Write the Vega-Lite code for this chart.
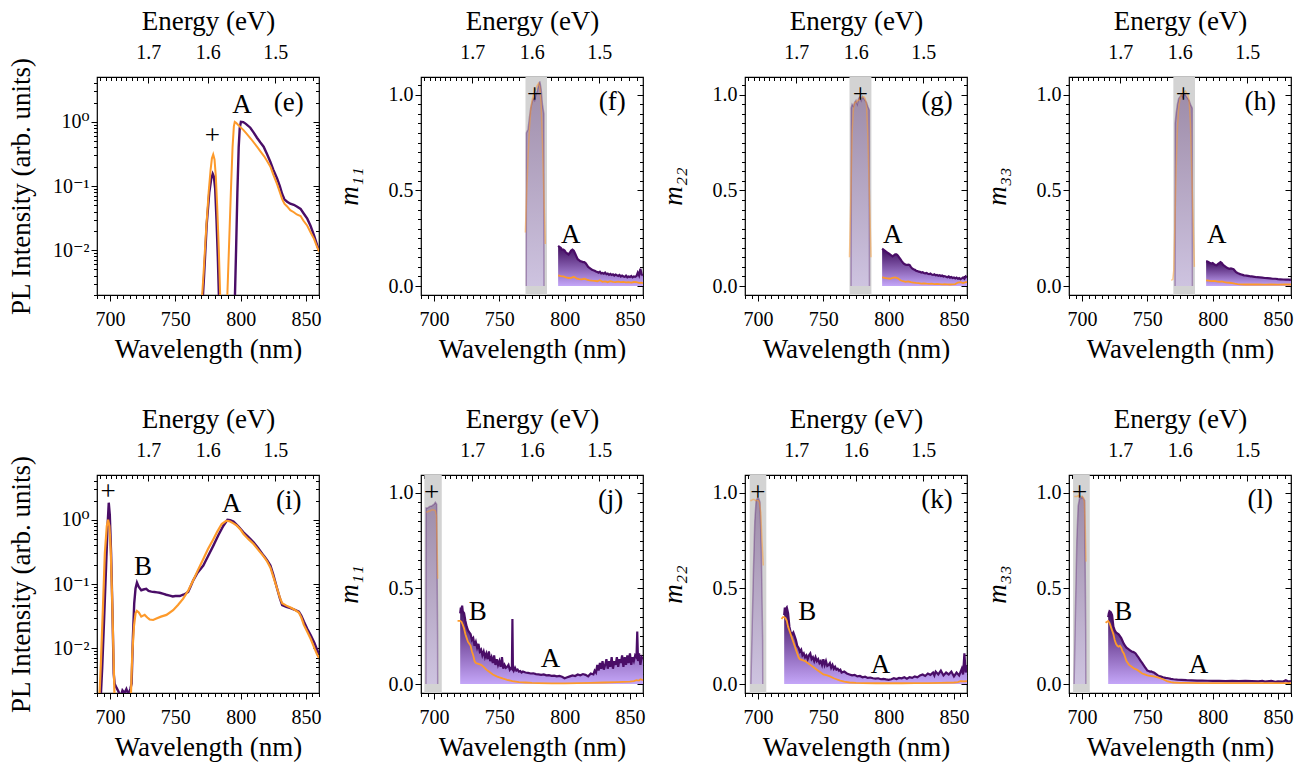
{
"$schema":"https://vega.github.io/schema/vega-lite/v6.json",
"padding":{"left":6,"top":6,"right":5,"bottom":5},
"background":"white",
"config":{
 "font":"Liberation Serif",
 "style":{"guide-label":{"font":"Liberation Serif, DejaVu Serif, serif"},"guide-title":{"font":"Liberation Serif, DejaVu Serif, serif"}},
 "view":{"stroke":"black","strokeWidth":1.2},
 "axis":{"domain":false,"grid":false,"tickColor":"black","tickWidth":1,"labelFont":"Liberation Serif, DejaVu Serif, serif","labelFontSize":20,"labelColor":"black","titleFont":"Liberation Serif, DejaVu Serif, serif","titleFontSize":27,"titleFontWeight":"normal","titleColor":"black","labelFlush":false,"labelOverlap":false,"labelBound":false},
 "text":{"font":"Liberation Serif","fontSize":27,"color":"black","align":"center","baseline":"middle"}
},
"datasets":{
 "anchor":[{"wl":700,"val":0.5}],
 "e_pu":[{"wl":770.5,"val":0.0012},{"wl":772,"val":0.004},{"wl":774,"val":0.025},{"wl":776,"val":0.08},{"wl":777.5,"val":0.13},{"wl":778.6,"val":0.155},{"wl":779.5,"val":0.14},{"wl":780.5,"val":0.09},{"wl":781.5,"val":0.03},{"wl":782.5,"val":0.008},{"wl":783.5,"val":0.0015},{"wl":790,"val":0.001},{"wl":795.5,"val":0.0015},{"wl":796.5,"val":0.01},{"wl":797.5,"val":0.08},{"wl":798.5,"val":0.4},{"wl":799.3,"val":0.8},{"wl":800.2,"val":1.0},{"wl":802,"val":0.99},{"wl":804,"val":0.93},{"wl":807.4,"val":0.81},{"wl":810,"val":0.68},{"wl":812.5,"val":0.565},{"wl":815,"val":0.48},{"wl":817.6,"val":0.41},{"wl":820,"val":0.32},{"wl":822.8,"val":0.237},{"wl":825,"val":0.18},{"wl":827.9,"val":0.131},{"wl":830,"val":0.1},{"wl":831.8,"val":0.075},{"wl":833.5,"val":0.062},{"wl":835.6,"val":0.057},{"wl":838,"val":0.053},{"wl":840.7,"val":0.051},{"wl":843,"val":0.048},{"wl":845.9,"val":0.044},{"wl":848,"val":0.038},{"wl":851,"val":0.031},{"wl":853.5,"val":0.024},{"wl":856.2,"val":0.017},{"wl":858,"val":0.013},{"wl":860,"val":0.0098}],
 "e_or":[{"wl":769.8,"val":0.0012},{"wl":771.5,"val":0.004},{"wl":773.5,"val":0.02},{"wl":775.5,"val":0.08},{"wl":777,"val":0.18},{"wl":778,"val":0.27},{"wl":779,"val":0.31},{"wl":780,"val":0.26},{"wl":781,"val":0.14},{"wl":782,"val":0.05},{"wl":783.3,"val":0.01},{"wl":784.5,"val":0.0015},{"wl":788,"val":0.001},{"wl":789.6,"val":0.0015},{"wl":791,"val":0.01},{"wl":792.5,"val":0.08},{"wl":793.8,"val":0.4},{"wl":794.8,"val":0.85},{"wl":795.5,"val":1.0},{"wl":796.5,"val":0.97},{"wl":798,"val":0.9},{"wl":800,"val":0.82},{"wl":802.2,"val":0.743},{"wl":805,"val":0.64},{"wl":808,"val":0.54},{"wl":812.5,"val":0.41},{"wl":815,"val":0.35},{"wl":818,"val":0.29},{"wl":820,"val":0.25},{"wl":822.8,"val":0.2},{"wl":825,"val":0.15},{"wl":827.9,"val":0.107},{"wl":830,"val":0.08},{"wl":831.8,"val":0.0625},{"wl":833.5,"val":0.053},{"wl":835.6,"val":0.048},{"wl":838,"val":0.042},{"wl":840.7,"val":0.039},{"wl":843,"val":0.036},{"wl":845.9,"val":0.034},{"wl":848,"val":0.029},{"wl":851,"val":0.024},{"wl":853.5,"val":0.019},{"wl":856.2,"val":0.015},{"wl":858,"val":0.012},{"wl":860,"val":0.0095}],
 "i_pu":[{"wl":692.5,"val":0.0012},{"wl":694,"val":0.005},{"wl":695.5,"val":0.03},{"wl":697,"val":0.2},{"wl":698.2,"val":0.9},{"wl":699,"val":1.85},{"wl":699.8,"val":1.2},{"wl":700.8,"val":0.3},{"wl":701.8,"val":0.04},{"wl":702.8,"val":0.004},{"wl":703.5,"val":0.0028},{"wl":705,"val":0.0024},{"wl":706.5,"val":0.0021},{"wl":708,"val":0.0017},{"wl":709.5,"val":0.0022},{"wl":711,"val":0.002},{"wl":712.5,"val":0.0023},{"wl":714,"val":0.0019},{"wl":715.5,"val":0.0023},{"wl":716.5,"val":0.0028},{"wl":717.5,"val":0.015},{"wl":718.5,"val":0.05},{"wl":719.5,"val":0.085},{"wl":720.6,"val":0.105},{"wl":722,"val":0.09},{"wl":723.9,"val":0.08},{"wl":725.5,"val":0.082},{"wl":727.7,"val":0.084},{"wl":729.5,"val":0.078},{"wl":731.6,"val":0.076},{"wl":734,"val":0.075},{"wl":736,"val":0.074},{"wl":738,"val":0.073},{"wl":741,"val":0.07},{"wl":743,"val":0.068},{"wl":745.7,"val":0.066},{"wl":748,"val":0.064},{"wl":750,"val":0.065},{"wl":753.4,"val":0.065},{"wl":756,"val":0.068},{"wl":758,"val":0.071},{"wl":759.8,"val":0.075},{"wl":761.5,"val":0.09},{"wl":763.7,"val":0.114},{"wl":767,"val":0.15},{"wl":771.4,"val":0.194},{"wl":775,"val":0.27},{"wl":779.1,"val":0.396},{"wl":783,"val":0.58},{"wl":786.8,"val":0.81},{"wl":789.9,"val":1.0},{"wl":792,"val":0.99},{"wl":794.5,"val":0.94},{"wl":798,"val":0.8},{"wl":802.2,"val":0.64},{"wl":806,"val":0.54},{"wl":809.9,"val":0.446},{"wl":813.5,"val":0.36},{"wl":817.6,"val":0.277},{"wl":820,"val":0.24},{"wl":822.8,"val":0.194},{"wl":825,"val":0.14},{"wl":827.9,"val":0.085},{"wl":830,"val":0.06},{"wl":831.8,"val":0.047},{"wl":835,"val":0.044},{"wl":838.2,"val":0.042},{"wl":841,"val":0.04},{"wl":844.6,"val":0.037},{"wl":846.5,"val":0.032},{"wl":848.4,"val":0.026},{"wl":851,"val":0.02},{"wl":853.6,"val":0.016},{"wl":856.5,"val":0.012},{"wl":858.5,"val":0.0095},{"wl":860,"val":0.008}],
 "i_or":[{"wl":691.5,"val":0.0012},{"wl":693,"val":0.006},{"wl":694.5,"val":0.04},{"wl":696,"val":0.3},{"wl":697.5,"val":0.8},{"wl":698.5,"val":1.0},{"wl":699.5,"val":0.8},{"wl":700.5,"val":0.35},{"wl":701.5,"val":0.07},{"wl":702.5,"val":0.01},{"wl":703.5,"val":0.0015},{"wl":710,"val":0.001},{"wl":715.8,"val":0.0015},{"wl":717,"val":0.008},{"wl":718.3,"val":0.022},{"wl":719.5,"val":0.035},{"wl":720.5,"val":0.038},{"wl":722,"val":0.036},{"wl":723.9,"val":0.031},{"wl":726.5,"val":0.033},{"wl":728.5,"val":0.03},{"wl":730.3,"val":0.028},{"wl":733,"val":0.0275},{"wl":735.5,"val":0.029},{"wl":739,"val":0.031},{"wl":743.2,"val":0.033},{"wl":748.3,"val":0.039},{"wl":752,"val":0.047},{"wl":756,"val":0.059},{"wl":760,"val":0.08},{"wl":763.7,"val":0.114},{"wl":767,"val":0.16},{"wl":771.4,"val":0.246},{"wl":775,"val":0.35},{"wl":779.1,"val":0.5},{"wl":782,"val":0.65},{"wl":785.5,"val":0.86},{"wl":788.9,"val":0.965},{"wl":790.5,"val":0.96},{"wl":792,"val":0.94},{"wl":794.5,"val":0.88},{"wl":797.1,"val":0.81},{"wl":800,"val":0.7},{"wl":802.2,"val":0.6},{"wl":806,"val":0.5},{"wl":809.9,"val":0.42},{"wl":813.5,"val":0.34},{"wl":817.6,"val":0.27},{"wl":820,"val":0.23},{"wl":822.8,"val":0.18},{"wl":825,"val":0.13},{"wl":827.9,"val":0.085},{"wl":830,"val":0.062},{"wl":831.8,"val":0.05},{"wl":835,"val":0.046},{"wl":838.2,"val":0.043},{"wl":841,"val":0.04},{"wl":844.6,"val":0.036},{"wl":846.5,"val":0.03},{"wl":848.4,"val":0.023},{"wl":851,"val":0.018},{"wl":853.6,"val":0.014},{"wl":856.5,"val":0.01},{"wl":858.5,"val":0.008},{"wl":860,"val":0.007}],
 "f_pp":[{"wl":770.6,"val":0},{"wl":770.7,"val":0.8},{"wl":772,"val":0.82},{"wl":773,"val":0.88},{"wl":774,"val":0.93},{"wl":775,"val":0.96},{"wl":776,"val":0.98},{"wl":777,"val":0.97},{"wl":778,"val":1.0},{"wl":779,"val":1.02},{"wl":780,"val":1.05},{"wl":781,"val":1.07},{"wl":782,"val":1.03},{"wl":783,"val":0.95},{"wl":784.1,"val":0.9},{"wl":784.2,"val":0}],
 "f_op":[{"wl":769.9,"val":0.28},{"wl":771,"val":0.5},{"wl":772,"val":0.68},{"wl":773,"val":0.82},{"wl":774,"val":0.92},{"wl":775,"val":0.97},{"wl":776,"val":1.0},{"wl":777,"val":1.02},{"wl":778,"val":1.03},{"wl":779,"val":1.05},{"wl":780,"val":1.06},{"wl":781,"val":1.04},{"wl":782,"val":0.95},{"wl":783,"val":0.75},{"wl":784,"val":0.5},{"wl":785.2,"val":0.22}],
 "f_pu":[{"wl":795,"val":0.21},{"wl":796,"val":0.205},{"wl":797,"val":0.2},{"wl":798,"val":0.19},{"wl":799,"val":0.19},{"wl":800,"val":0.185},{"wl":801,"val":0.175},{"wl":802,"val":0.17},{"wl":803,"val":0.165},{"wl":804,"val":0.175},{"wl":805,"val":0.185},{"wl":806,"val":0.19},{"wl":807,"val":0.185},{"wl":808,"val":0.17},{"wl":809,"val":0.155},{"wl":810,"val":0.14},{"wl":811,"val":0.135},{"wl":812,"val":0.13},{"wl":813,"val":0.128},{"wl":814,"val":0.125},{"wl":815,"val":0.125},{"wl":816,"val":0.12},{"wl":817,"val":0.11},{"wl":818,"val":0.1},{"wl":819,"val":0.095},{"wl":820,"val":0.09},{"wl":821,"val":0.085},{"wl":822,"val":0.082},{"wl":823,"val":0.08},{"wl":824,"val":0.076},{"wl":825,"val":0.073},{"wl":826,"val":0.07},{"wl":827,"val":0.075},{"wl":828,"val":0.066},{"wl":829,"val":0.068},{"wl":830,"val":0.064},{"wl":831,"val":0.07},{"wl":832,"val":0.062},{"wl":833,"val":0.065},{"wl":834,"val":0.058},{"wl":835,"val":0.063},{"wl":836,"val":0.058},{"wl":837,"val":0.061},{"wl":838,"val":0.055},{"wl":839,"val":0.06},{"wl":840,"val":0.056},{"wl":841,"val":0.053},{"wl":842,"val":0.058},{"wl":843,"val":0.05},{"wl":844,"val":0.055},{"wl":845,"val":0.05},{"wl":846,"val":0.048},{"wl":847,"val":0.054},{"wl":848,"val":0.046},{"wl":849,"val":0.05},{"wl":850,"val":0.047},{"wl":851,"val":0.052},{"wl":852,"val":0.045},{"wl":853,"val":0.05},{"wl":854,"val":0.048},{"wl":855,"val":0.052},{"wl":856,"val":0.07},{"wl":857,"val":0.055},{"wl":858,"val":0.09},{"wl":859,"val":0.06},{"wl":860,"val":0.056}],
 "f_or":[{"wl":795,"val":0.056},{"wl":797,"val":0.052},{"wl":799,"val":0.05},{"wl":801,"val":0.045},{"wl":803,"val":0.042},{"wl":805,"val":0.043},{"wl":807,"val":0.048},{"wl":809,"val":0.04},{"wl":811,"val":0.036},{"wl":813,"val":0.035},{"wl":815,"val":0.038},{"wl":817,"val":0.033},{"wl":819,"val":0.03},{"wl":821,"val":0.028},{"wl":823,"val":0.027},{"wl":825,"val":0.025},{"wl":827,"val":0.03},{"wl":829,"val":0.022},{"wl":831,"val":0.024},{"wl":833,"val":0.02},{"wl":835,"val":0.025},{"wl":837,"val":0.022},{"wl":839,"val":0.02},{"wl":841,"val":0.023},{"wl":843,"val":0.02},{"wl":845,"val":0.022},{"wl":847,"val":0.019},{"wl":849,"val":0.02},{"wl":851,"val":0.018},{"wl":853,"val":0.021},{"wl":855,"val":0.02},{"wl":857,"val":0.016},{"wl":859,"val":0.018},{"wl":860,"val":0.015}],
 "g_pp":[{"wl":771.2,"val":0},{"wl":771.3,"val":0.93},{"wl":772,"val":0.95},{"wl":773,"val":0.94},{"wl":774,"val":0.96},{"wl":775,"val":0.97},{"wl":776,"val":0.95},{"wl":777,"val":0.98},{"wl":778,"val":0.99},{"wl":779,"val":0.97},{"wl":780,"val":0.99},{"wl":781,"val":0.98},{"wl":782,"val":0.97},{"wl":783,"val":0.96},{"wl":784,"val":0.94},{"wl":785.2,"val":0.92},{"wl":785.3,"val":0}],
 "g_op":[{"wl":770,"val":0.15},{"wl":771,"val":0.45},{"wl":772,"val":0.8},{"wl":773,"val":0.92},{"wl":774,"val":0.96},{"wl":775,"val":0.96},{"wl":776,"val":0.97},{"wl":777,"val":0.97},{"wl":778,"val":0.98},{"wl":779,"val":0.98},{"wl":780,"val":0.99},{"wl":781,"val":0.99},{"wl":782,"val":0.98},{"wl":783,"val":0.95},{"wl":784,"val":0.8},{"wl":785,"val":0.55},{"wl":786.5,"val":0.15}],
 "g_pu":[{"wl":795,"val":0.195},{"wl":796,"val":0.19},{"wl":797,"val":0.185},{"wl":798,"val":0.18},{"wl":799,"val":0.175},{"wl":800,"val":0.17},{"wl":801,"val":0.165},{"wl":802,"val":0.16},{"wl":803,"val":0.155},{"wl":804,"val":0.16},{"wl":805,"val":0.165},{"wl":806,"val":0.165},{"wl":807,"val":0.16},{"wl":808,"val":0.15},{"wl":809,"val":0.14},{"wl":810,"val":0.13},{"wl":811,"val":0.122},{"wl":812,"val":0.115},{"wl":813,"val":0.112},{"wl":814,"val":0.11},{"wl":815,"val":0.112},{"wl":816,"val":0.11},{"wl":817,"val":0.1},{"wl":818,"val":0.092},{"wl":819,"val":0.088},{"wl":820,"val":0.085},{"wl":821,"val":0.08},{"wl":822,"val":0.078},{"wl":823,"val":0.075},{"wl":824,"val":0.074},{"wl":825,"val":0.07},{"wl":826,"val":0.072},{"wl":827,"val":0.068},{"wl":828,"val":0.066},{"wl":829,"val":0.068},{"wl":830,"val":0.064},{"wl":831,"val":0.062},{"wl":832,"val":0.065},{"wl":833,"val":0.06},{"wl":834,"val":0.058},{"wl":835,"val":0.061},{"wl":836,"val":0.056},{"wl":837,"val":0.058},{"wl":838,"val":0.054},{"wl":839,"val":0.056},{"wl":840,"val":0.052},{"wl":841,"val":0.055},{"wl":842,"val":0.05},{"wl":843,"val":0.052},{"wl":844,"val":0.048},{"wl":845,"val":0.046},{"wl":846,"val":0.05},{"wl":847,"val":0.044},{"wl":848,"val":0.047},{"wl":849,"val":0.042},{"wl":850,"val":0.045},{"wl":851,"val":0.04},{"wl":852,"val":0.044},{"wl":853,"val":0.038},{"wl":854,"val":0.042},{"wl":855,"val":0.036},{"wl":856,"val":0.04},{"wl":857,"val":0.045},{"wl":858,"val":0.038},{"wl":859,"val":0.05},{"wl":860,"val":0.045}],
 "g_or":[{"wl":795,"val":0.045},{"wl":797,"val":0.042},{"wl":799,"val":0.04},{"wl":801,"val":0.038},{"wl":803,"val":0.042},{"wl":805,"val":0.045},{"wl":807,"val":0.04},{"wl":809,"val":0.03},{"wl":811,"val":0.025},{"wl":813,"val":0.022},{"wl":815,"val":0.024},{"wl":817,"val":0.02},{"wl":819,"val":0.018},{"wl":821,"val":0.016},{"wl":823,"val":0.015},{"wl":825,"val":0.013},{"wl":827,"val":0.014},{"wl":829,"val":0.012},{"wl":831,"val":0.011},{"wl":833,"val":0.012},{"wl":835,"val":0.01},{"wl":837,"val":0.011},{"wl":839,"val":0.01},{"wl":841,"val":0.009},{"wl":843,"val":0.01},{"wl":845,"val":0.009},{"wl":847,"val":0.008},{"wl":849,"val":0.009},{"wl":851,"val":0.01},{"wl":853,"val":0.018},{"wl":855,"val":0.02},{"wl":857,"val":0.015},{"wl":859,"val":0.02},{"wl":860,"val":0.02}],
 "h_pp":[{"wl":771.2,"val":0},{"wl":771.3,"val":0.85},{"wl":772,"val":0.9},{"wl":773,"val":0.95},{"wl":774,"val":0.98},{"wl":775,"val":0.99},{"wl":776,"val":1.0},{"wl":777,"val":0.99},{"wl":778,"val":1.0},{"wl":779,"val":1.0},{"wl":780,"val":0.99},{"wl":781,"val":0.98},{"wl":782,"val":0.97},{"wl":783,"val":0.95},{"wl":784.4,"val":0.93},{"wl":784.5,"val":0}],
 "h_op":[{"wl":768.3,"val":0.03},{"wl":769.5,"val":0.035},{"wl":770.2,"val":0.08},{"wl":771,"val":0.3},{"wl":772,"val":0.6},{"wl":773,"val":0.82},{"wl":774,"val":0.93},{"wl":775,"val":0.98},{"wl":776,"val":1.0},{"wl":777,"val":1.01},{"wl":778,"val":1.01},{"wl":779,"val":1.02},{"wl":780,"val":1.01},{"wl":781,"val":1.0},{"wl":782,"val":0.97},{"wl":783,"val":0.85},{"wl":784,"val":0.6},{"wl":785,"val":0.35},{"wl":786,"val":0.1}],
 "h_pu":[{"wl":795,"val":0.13},{"wl":796,"val":0.128},{"wl":797,"val":0.125},{"wl":798,"val":0.12},{"wl":799,"val":0.118},{"wl":800,"val":0.12},{"wl":801,"val":0.115},{"wl":802,"val":0.11},{"wl":803,"val":0.108},{"wl":804,"val":0.115},{"wl":805,"val":0.12},{"wl":806,"val":0.125},{"wl":807,"val":0.12},{"wl":808,"val":0.11},{"wl":809,"val":0.105},{"wl":810,"val":0.1},{"wl":811,"val":0.095},{"wl":812,"val":0.092},{"wl":813,"val":0.09},{"wl":814,"val":0.092},{"wl":815,"val":0.09},{"wl":816,"val":0.088},{"wl":817,"val":0.08},{"wl":818,"val":0.072},{"wl":819,"val":0.068},{"wl":820,"val":0.065},{"wl":821,"val":0.062},{"wl":822,"val":0.06},{"wl":823,"val":0.058},{"wl":824,"val":0.056},{"wl":825,"val":0.055},{"wl":826,"val":0.054},{"wl":827,"val":0.053},{"wl":828,"val":0.052},{"wl":829,"val":0.05},{"wl":830,"val":0.05},{"wl":832,"val":0.048},{"wl":834,"val":0.046},{"wl":836,"val":0.045},{"wl":838,"val":0.044},{"wl":840,"val":0.042},{"wl":842,"val":0.041},{"wl":844,"val":0.04},{"wl":846,"val":0.038},{"wl":848,"val":0.038},{"wl":850,"val":0.036},{"wl":852,"val":0.035},{"wl":854,"val":0.034},{"wl":856,"val":0.033},{"wl":858,"val":0.033},{"wl":860,"val":0.032}],
 "h_or":[{"wl":795,"val":0.03},{"wl":797,"val":0.028},{"wl":799,"val":0.026},{"wl":801,"val":0.027},{"wl":803,"val":0.024},{"wl":805,"val":0.022},{"wl":807,"val":0.024},{"wl":809,"val":0.02},{"wl":811,"val":0.018},{"wl":813,"val":0.017},{"wl":815,"val":0.015},{"wl":817,"val":0.012},{"wl":819,"val":0.01},{"wl":821,"val":0.009},{"wl":825,"val":0.008},{"wl":830,"val":0.008},{"wl":835,"val":0.008},{"wl":840,"val":0.007},{"wl":845,"val":0.008},{"wl":850,"val":0.007},{"wl":855,"val":0.008},{"wl":860,"val":0.008}],
 "j_pp":[{"wl":693.8,"val":0},{"wl":693.9,"val":0.92},{"wl":695,"val":0.92},{"wl":696,"val":0.925},{"wl":697,"val":0.93},{"wl":698,"val":0.93},{"wl":699,"val":0.935},{"wl":700,"val":0.94},{"wl":701,"val":0.95},{"wl":702,"val":0.94},{"wl":702.7,"val":0.26},{"wl":702.8,"val":0}],
 "j_op":[{"wl":694,"val":0.9},{"wl":695,"val":0.9},{"wl":696,"val":0.905},{"wl":697,"val":0.905},{"wl":698,"val":0.91},{"wl":699,"val":0.91},{"wl":700,"val":0.91},{"wl":701,"val":0.905},{"wl":701.8,"val":0.88},{"wl":702.4,"val":0.7},{"wl":702.8,"val":0.55}],
 "j_pu":[{"wl":720,"val":0.37},{"wl":720.5,"val":0.4},{"wl":721,"val":0.39},{"wl":721.5,"val":0.41},{"wl":722,"val":0.38},{"wl":723,"val":0.37},{"wl":724,"val":0.33},{"wl":725,"val":0.3},{"wl":726,"val":0.28},{"wl":727,"val":0.27},{"wl":728,"val":0.26},{"wl":729,"val":0.23},{"wl":730,"val":0.24},{"wl":731,"val":0.2},{"wl":732,"val":0.22},{"wl":733,"val":0.19},{"wl":734,"val":0.21},{"wl":735,"val":0.17},{"wl":736,"val":0.18},{"wl":737,"val":0.15},{"wl":738,"val":0.17},{"wl":739,"val":0.14},{"wl":740,"val":0.16},{"wl":741,"val":0.13},{"wl":742,"val":0.17},{"wl":743,"val":0.12},{"wl":744,"val":0.14},{"wl":745,"val":0.11},{"wl":746,"val":0.15},{"wl":747,"val":0.1},{"wl":748,"val":0.13},{"wl":749,"val":0.1},{"wl":750,"val":0.12},{"wl":751,"val":0.09},{"wl":752,"val":0.14},{"wl":753,"val":0.08},{"wl":754,"val":0.1},{"wl":755,"val":0.085},{"wl":756,"val":0.09},{"wl":757,"val":0.1},{"wl":758,"val":0.075},{"wl":759,"val":0.085},{"wl":759.6,"val":0.08},{"wl":760,"val":0.34},{"wl":760.4,"val":0.08},{"wl":761,"val":0.07},{"wl":762,"val":0.085},{"wl":763,"val":0.07},{"wl":764,"val":0.075},{"wl":765,"val":0.065},{"wl":766,"val":0.068},{"wl":767,"val":0.06},{"wl":768,"val":0.065},{"wl":770,"val":0.06},{"wl":772,"val":0.058},{"wl":774,"val":0.055},{"wl":776,"val":0.056},{"wl":778,"val":0.052},{"wl":780,"val":0.05},{"wl":782,"val":0.048},{"wl":784,"val":0.05},{"wl":786,"val":0.045},{"wl":788,"val":0.046},{"wl":790,"val":0.043},{"wl":792,"val":0.044},{"wl":794,"val":0.04},{"wl":796,"val":0.042},{"wl":798,"val":0.038},{"wl":800,"val":0.03},{"wl":802,"val":0.035},{"wl":804,"val":0.04},{"wl":806,"val":0.045},{"wl":808,"val":0.042},{"wl":810,"val":0.05},{"wl":812,"val":0.046},{"wl":814,"val":0.052},{"wl":816,"val":0.048},{"wl":818,"val":0.04},{"wl":820,"val":0.055},{"wl":822,"val":0.05},{"wl":823,"val":0.07},{"wl":824,"val":0.06},{"wl":825,"val":0.1},{"wl":826,"val":0.07},{"wl":827,"val":0.11},{"wl":828,"val":0.08},{"wl":829,"val":0.12},{"wl":830,"val":0.075},{"wl":831,"val":0.1},{"wl":832,"val":0.13},{"wl":833,"val":0.08},{"wl":834,"val":0.12},{"wl":835,"val":0.09},{"wl":836,"val":0.14},{"wl":837,"val":0.08},{"wl":838,"val":0.12},{"wl":839,"val":0.1},{"wl":840,"val":0.14},{"wl":841,"val":0.09},{"wl":842,"val":0.13},{"wl":843,"val":0.11},{"wl":844,"val":0.15},{"wl":845,"val":0.09},{"wl":846,"val":0.14},{"wl":847,"val":0.1},{"wl":848,"val":0.15},{"wl":849,"val":0.11},{"wl":850,"val":0.16},{"wl":851,"val":0.1},{"wl":852,"val":0.14},{"wl":853,"val":0.12},{"wl":854,"val":0.15},{"wl":855,"val":0.14},{"wl":855.6,"val":0.275},{"wl":856.2,"val":0.12},{"wl":857,"val":0.16},{"wl":858,"val":0.1},{"wl":859,"val":0.14},{"wl":860,"val":0.13}],
 "j_or":[{"wl":718,"val":0.33},{"wl":719,"val":0.33},{"wl":720,"val":0.33},{"wl":721,"val":0.325},{"wl":722,"val":0.31},{"wl":723,"val":0.29},{"wl":724,"val":0.26},{"wl":725,"val":0.24},{"wl":726,"val":0.22},{"wl":727,"val":0.21},{"wl":728,"val":0.2},{"wl":729,"val":0.17},{"wl":730,"val":0.15},{"wl":731,"val":0.12},{"wl":732,"val":0.11},{"wl":734,"val":0.105},{"wl":736,"val":0.1},{"wl":738,"val":0.09},{"wl":740,"val":0.075},{"wl":742,"val":0.065},{"wl":745,"val":0.05},{"wl":748,"val":0.04},{"wl":750,"val":0.035},{"wl":753,"val":0.028},{"wl":756,"val":0.022},{"wl":760,"val":0.015},{"wl":765,"val":0.01},{"wl":770,"val":0.008},{"wl":775,"val":0.006},{"wl":780,"val":0.005},{"wl":790,"val":0.003},{"wl":800,"val":0.003},{"wl":810,"val":0.005},{"wl":820,"val":0.006},{"wl":830,"val":0.008},{"wl":840,"val":0.01},{"wl":845,"val":0.011},{"wl":850,"val":0.012},{"wl":853,"val":0.015},{"wl":855,"val":0.02},{"wl":857,"val":0.018},{"wl":858,"val":0.025},{"wl":860,"val":0.02}],
 "k_pp":[{"wl":694.5,"val":0},{"wl":695.5,"val":0.3},{"wl":696.5,"val":0.6},{"wl":697.5,"val":0.85},{"wl":698.5,"val":0.96},{"wl":699.5,"val":0.97},{"wl":700.5,"val":0.97},{"wl":701.5,"val":0.95},{"wl":702.5,"val":0.7},{"wl":703.5,"val":0.23},{"wl":703.6,"val":0}],
 "k_op":[{"wl":694,"val":0.96},{"wl":695,"val":0.96},{"wl":696,"val":0.965},{"wl":697,"val":0.965},{"wl":698,"val":0.96},{"wl":699,"val":0.96},{"wl":700,"val":0.96},{"wl":701,"val":0.95},{"wl":702,"val":0.9},{"wl":703,"val":0.75},{"wl":704,"val":0.62}],
 "k_pu":[{"wl":720,"val":0.36},{"wl":720.5,"val":0.4},{"wl":721,"val":0.39},{"wl":722,"val":0.4},{"wl":723,"val":0.37},{"wl":724,"val":0.3},{"wl":725,"val":0.27},{"wl":726,"val":0.26},{"wl":727,"val":0.27},{"wl":728,"val":0.25},{"wl":729,"val":0.23},{"wl":730,"val":0.2},{"wl":731,"val":0.19},{"wl":732,"val":0.17},{"wl":733,"val":0.18},{"wl":734,"val":0.15},{"wl":735,"val":0.16},{"wl":736,"val":0.14},{"wl":737,"val":0.15},{"wl":738,"val":0.13},{"wl":739,"val":0.15},{"wl":740,"val":0.16},{"wl":741,"val":0.13},{"wl":742,"val":0.14},{"wl":743,"val":0.12},{"wl":744,"val":0.14},{"wl":745,"val":0.12},{"wl":746,"val":0.13},{"wl":747,"val":0.11},{"wl":748,"val":0.12},{"wl":749,"val":0.1},{"wl":750,"val":0.13},{"wl":751,"val":0.1},{"wl":752,"val":0.12},{"wl":753,"val":0.095},{"wl":754,"val":0.1},{"wl":755,"val":0.11},{"wl":756,"val":0.085},{"wl":757,"val":0.1},{"wl":758,"val":0.08},{"wl":759,"val":0.09},{"wl":760,"val":0.075},{"wl":761,"val":0.08},{"wl":762,"val":0.07},{"wl":763,"val":0.075},{"wl":764,"val":0.06},{"wl":766,"val":0.065},{"wl":768,"val":0.055},{"wl":770,"val":0.05},{"wl":772,"val":0.045},{"wl":774,"val":0.048},{"wl":776,"val":0.04},{"wl":778,"val":0.042},{"wl":780,"val":0.035},{"wl":782,"val":0.038},{"wl":784,"val":0.032},{"wl":786,"val":0.034},{"wl":788,"val":0.03},{"wl":790,"val":0.028},{"wl":792,"val":0.03},{"wl":794,"val":0.025},{"wl":796,"val":0.027},{"wl":798,"val":0.024},{"wl":800,"val":0.022},{"wl":802,"val":0.025},{"wl":804,"val":0.03},{"wl":806,"val":0.026},{"wl":808,"val":0.032},{"wl":810,"val":0.03},{"wl":812,"val":0.035},{"wl":814,"val":0.028},{"wl":816,"val":0.036},{"wl":818,"val":0.032},{"wl":820,"val":0.04},{"wl":822,"val":0.035},{"wl":824,"val":0.045},{"wl":826,"val":0.05},{"wl":828,"val":0.042},{"wl":830,"val":0.055},{"wl":832,"val":0.048},{"wl":834,"val":0.06},{"wl":835,"val":0.045},{"wl":836,"val":0.065},{"wl":838,"val":0.05},{"wl":840,"val":0.07},{"wl":842,"val":0.045},{"wl":844,"val":0.06},{"wl":846,"val":0.05},{"wl":848,"val":0.065},{"wl":850,"val":0.04},{"wl":852,"val":0.06},{"wl":854,"val":0.045},{"wl":856,"val":0.08},{"wl":857,"val":0.05},{"wl":858,"val":0.16},{"wl":859,"val":0.06},{"wl":860,"val":0.1}],
 "k_or":[{"wl":718,"val":0.34},{"wl":719,"val":0.35},{"wl":720,"val":0.35},{"wl":721,"val":0.345},{"wl":722,"val":0.33},{"wl":723,"val":0.3},{"wl":724,"val":0.28},{"wl":725,"val":0.26},{"wl":726,"val":0.24},{"wl":727,"val":0.22},{"wl":728,"val":0.2},{"wl":729,"val":0.18},{"wl":730,"val":0.16},{"wl":731,"val":0.14},{"wl":732,"val":0.13},{"wl":734,"val":0.125},{"wl":736,"val":0.12},{"wl":738,"val":0.11},{"wl":740,"val":0.1},{"wl":742,"val":0.09},{"wl":745,"val":0.075},{"wl":748,"val":0.06},{"wl":750,"val":0.05},{"wl":753,"val":0.045},{"wl":755,"val":0.04},{"wl":758,"val":0.03},{"wl":760,"val":0.025},{"wl":763,"val":0.018},{"wl":766,"val":0.012},{"wl":770,"val":0.008},{"wl":775,"val":0.006},{"wl":780,"val":0.005},{"wl":790,"val":0.004},{"wl":800,"val":0.004},{"wl":810,"val":0.004},{"wl":820,"val":0.005},{"wl":830,"val":0.005},{"wl":840,"val":0.006},{"wl":850,"val":0.008},{"wl":853,"val":0.01},{"wl":855,"val":0.015},{"wl":858,"val":0.014},{"wl":860,"val":0.015}],
 "l_pp":[{"wl":693.9,"val":0},{"wl":695,"val":0.4},{"wl":696,"val":0.75},{"wl":697,"val":0.93},{"wl":698,"val":0.97},{"wl":699,"val":0.97},{"wl":700,"val":0.98},{"wl":701,"val":0.97},{"wl":702,"val":0.96},{"wl":702.8,"val":0.27},{"wl":702.9,"val":0}],
 "l_op":[{"wl":694,"val":0.98},{"wl":695,"val":0.98},{"wl":696,"val":0.98},{"wl":697,"val":0.985},{"wl":698,"val":0.985},{"wl":699,"val":0.98},{"wl":700,"val":0.98},{"wl":701,"val":0.975},{"wl":701.8,"val":0.95},{"wl":702.5,"val":0.8},{"wl":703,"val":0.64}],
 "l_pu":[{"wl":720,"val":0.35},{"wl":720.5,"val":0.37},{"wl":721,"val":0.38},{"wl":722,"val":0.375},{"wl":723,"val":0.36},{"wl":724,"val":0.3},{"wl":725,"val":0.28},{"wl":726,"val":0.27},{"wl":727,"val":0.265},{"wl":728,"val":0.26},{"wl":729,"val":0.25},{"wl":730,"val":0.24},{"wl":731,"val":0.225},{"wl":732,"val":0.21},{"wl":733,"val":0.2},{"wl":734,"val":0.19},{"wl":735,"val":0.185},{"wl":736,"val":0.18},{"wl":737,"val":0.175},{"wl":738,"val":0.17},{"wl":739,"val":0.168},{"wl":740,"val":0.165},{"wl":741,"val":0.16},{"wl":742,"val":0.15},{"wl":743,"val":0.14},{"wl":744,"val":0.13},{"wl":745,"val":0.12},{"wl":746,"val":0.11},{"wl":747,"val":0.1},{"wl":748,"val":0.09},{"wl":749,"val":0.08},{"wl":750,"val":0.07},{"wl":751,"val":0.068},{"wl":752,"val":0.065},{"wl":753,"val":0.066},{"wl":754,"val":0.062},{"wl":755,"val":0.06},{"wl":756,"val":0.055},{"wl":757,"val":0.05},{"wl":758,"val":0.045},{"wl":759,"val":0.042},{"wl":760,"val":0.04},{"wl":762,"val":0.035},{"wl":764,"val":0.032},{"wl":766,"val":0.03},{"wl":768,"val":0.027},{"wl":770,"val":0.025},{"wl":773,"val":0.023},{"wl":776,"val":0.022},{"wl":780,"val":0.02},{"wl":784,"val":0.019},{"wl":788,"val":0.018},{"wl":792,"val":0.018},{"wl":796,"val":0.017},{"wl":800,"val":0.016},{"wl":805,"val":0.016},{"wl":810,"val":0.015},{"wl":815,"val":0.016},{"wl":820,"val":0.015},{"wl":825,"val":0.016},{"wl":830,"val":0.015},{"wl":835,"val":0.014},{"wl":838,"val":0.017},{"wl":840,"val":0.013},{"wl":845,"val":0.016},{"wl":848,"val":0.012},{"wl":850,"val":0.014},{"wl":854,"val":0.013},{"wl":856,"val":0.02},{"wl":858,"val":0.013},{"wl":860,"val":0.015}],
 "l_or":[{"wl":718,"val":0.32},{"wl":719,"val":0.325},{"wl":720,"val":0.33},{"wl":721,"val":0.32},{"wl":722,"val":0.3},{"wl":723,"val":0.28},{"wl":724,"val":0.26},{"wl":725,"val":0.23},{"wl":726,"val":0.21},{"wl":727,"val":0.2},{"wl":728,"val":0.195},{"wl":729,"val":0.2},{"wl":730,"val":0.19},{"wl":731,"val":0.17},{"wl":732,"val":0.16},{"wl":733,"val":0.14},{"wl":734,"val":0.12},{"wl":735,"val":0.11},{"wl":736,"val":0.1},{"wl":737,"val":0.095},{"wl":738,"val":0.09},{"wl":739,"val":0.085},{"wl":740,"val":0.08},{"wl":742,"val":0.075},{"wl":744,"val":0.065},{"wl":746,"val":0.055},{"wl":748,"val":0.05},{"wl":750,"val":0.045},{"wl":752,"val":0.043},{"wl":755,"val":0.04},{"wl":758,"val":0.035},{"wl":760,"val":0.03},{"wl":762,"val":0.025},{"wl":765,"val":0.015},{"wl":768,"val":0.01},{"wl":770,"val":0.008},{"wl":775,"val":0.006},{"wl":780,"val":0.006},{"wl":790,"val":0.005},{"wl":800,"val":0.005},{"wl":820,"val":0.005},{"wl":840,"val":0.005},{"wl":850,"val":0.005},{"wl":860,"val":0.005}]
},
"bounds":"flush",
"columns":4,
"spacing":{"row":180,"column":102},
"concat":[
 {"width":222,"height":218,"layer":[
  {"data":{"name":"e_pu"},"mark":{"type":"line","clip":true,"color":"#4a0d67","strokeWidth":2.4},"encoding":{"x":{"field":"wl","type":"quantitative","scale":{"domain":[690,860],"nice":false},"axis":null},"y":{"field":"val","type":"quantitative","scale":{"type":"log","domain":[0.002,5],"nice":false},"axis":null}}},
  {"data":{"name":"e_or"},"mark":{"type":"line","clip":true,"color":"#fd9a2b","strokeWidth":2},"encoding":{"x":{"field":"wl","type":"quantitative","axis":null},"y":{"field":"val","type":"quantitative","axis":null}}},
  {"data":{"values":[{"wl":801,"val":1.85,"text":"A"},{"wl":778.3,"val":0.6,"text":"+"},{"wl":836.8,"val":1.97,"text":"(e)"}]},"mark":{"type":"text"},"encoding":{"x":{"field":"wl","type":"quantitative","axis":null},"y":{"field":"val","type":"quantitative","axis":null},"text":{"field":"text"}}},
  {"data":{"name":"anchor"},"mark":{"type":"point","opacity":0},"encoding":{"x":{"field":"wl","type":"quantitative","axis":{"orient":"bottom","values":[700,750,800,850],"title":"Wavelength (nm)","tickSize":6,"labelPadding":8,"titlePadding":7}},"y":{"field":"val","type":"quantitative","axis":{"orient":"left","values":[0.01,0.1,1],"labelExpr":"datum.value>0.5?'10⁰':(datum.value>0.05?'10⁻¹':'10⁻²')","tickSize":6,"labelPadding":2,"title":"PL Intensity (arb. units)","titlePadding":17}}}},
  {"data":{"name":"anchor"},"mark":{"type":"point","opacity":0},"encoding":{"x":{"field":"wl","type":"quantitative","axis":{"orient":"bottom","values":[690,695,705,710,715,720,725,730,735,740,745,755,760,765,770,775,780,785,790,795,805,810,815,820,825,830,835,840,845,855,860],"labels":false,"tickSize":3.5,"title":null}},"y":{"field":"val","type":"quantitative","axis":{"orient":"left","values":[0.002,0.003,0.004,0.005,0.006,0.007,0.008,0.009,0.02,0.03,0.04,0.05,0.06,0.07,0.08,0.09,0.2,0.3,0.4,0.5,0.6,0.7,0.8,0.9,2,3,4],"labels":false,"tickSize":3.5,"title":null}}}},
  {"data":{"name":"anchor"},"mark":{"type":"point","opacity":0},"encoding":{"x":{"field":"wl","type":"quantitative","axis":{"orient":"top","values":[729.32,774.9,826.56],"labelExpr":"format(1239.84/datum.value,'.1f')","ticks":false,"labelPadding":15,"title":"Energy (eV)","titlePadding":7}},"y":{"field":"val","type":"quantitative","axis":{"orient":"right","values":[0.01,0.1,1],"labels":false,"tickSize":6,"offset":-6,"title":null}}}},
  {"data":{"name":"anchor"},"mark":{"type":"point","opacity":0},"encoding":{"x":{"field":"wl","type":"quantitative","axis":{"orient":"top","values":[729.32,774.9,826.56],"labels":false,"tickSize":6,"offset":-6,"title":null}},"y":{"field":"val","type":"quantitative","axis":{"orient":"right","values":[0.002,0.003,0.004,0.005,0.006,0.007,0.008,0.009,0.02,0.03,0.04,0.05,0.06,0.07,0.08,0.09,0.2,0.3,0.4,0.5,0.6,0.7,0.8,0.9,2,3,4],"labels":false,"tickSize":3.5,"offset":-3.5,"title":null}}}},
  {"data":{"name":"anchor"},"mark":{"type":"point","opacity":0},"encoding":{"x":{"field":"wl","type":"quantitative","axis":{"orient":"top","values":[692.65,696.54,700.47,704.45,708.48,712.55,716.68,720.84,725.05,733.63,738,742.42,746.89,751.42,756,760.64,765.33,770.09,779.77,784.71,789.71,794.77,799.9,805.09,810.35,815.68,821.09,832.11,837.73,843.43,849.21,855.06],"labels":false,"tickSize":3.5,"offset":-3.5,"title":null}},"y":{"field":"val","type":"quantitative","axis":null}}}
 ],"resolve":{"axis":{"x":"independent","y":"independent"}}},

 {"width":222,"height":218,"layer":[
  {"data":{"values":[{"x0":770,"x1":786.5}]},"mark":{"type":"rect","color":"#d3d3d3"},"encoding":{"x":{"field":"x0","type":"quantitative","scale":{"domain":[690,860],"nice":false},"axis":null},"x2":{"field":"x1"}}},
  {"data":{"name":"f_pp"},"mark":{"type":"area","clip":true,"opacity":0.35,"color":{"gradient":"linear","x1":0,"y1":1,"x2":0,"y2":0,"stops":[{"offset":0,"color":"#c4a6f8"},{"offset":1,"color":"#3d0a5b"}]}},"encoding":{"x":{"field":"wl","type":"quantitative","axis":null},"y":{"field":"val","type":"quantitative","scale":{"domain":[-0.047,1.093],"nice":false},"axis":null}}},
  {"data":{"name":"f_pp"},"mark":{"type":"line","clip":true,"opacity":0.35,"color":"#4a0d67","strokeWidth":1.5},"encoding":{"x":{"field":"wl","type":"quantitative","axis":null},"y":{"field":"val","type":"quantitative","axis":null}}},
  {"data":{"name":"f_op"},"mark":{"type":"line","clip":true,"opacity":0.5,"color":"#fd9a2b","strokeWidth":1.5},"encoding":{"x":{"field":"wl","type":"quantitative","axis":null},"y":{"field":"val","type":"quantitative","axis":null}}},
  {"data":{"name":"f_pu"},"mark":{"type":"area","clip":true,"color":{"gradient":"linear","x1":0,"y1":1,"x2":0,"y2":0,"stops":[{"offset":0,"color":"#c4a6f8"},{"offset":1,"color":"#3d0a5b"}]}},"encoding":{"x":{"field":"wl","type":"quantitative","axis":null},"y":{"field":"val","type":"quantitative","axis":null}}},
  {"data":{"name":"f_pu"},"mark":{"type":"line","clip":true,"color":"#4a0d67","strokeWidth":2.2},"encoding":{"x":{"field":"wl","type":"quantitative","axis":null},"y":{"field":"val","type":"quantitative","axis":null}}},
  {"data":{"name":"f_or"},"mark":{"type":"line","clip":true,"color":"#fd9a2b","strokeWidth":1.8},"encoding":{"x":{"field":"wl","type":"quantitative","axis":null},"y":{"field":"val","type":"quantitative","axis":null}}},
  {"data":{"values":[{"wl":804.7,"val":0.265,"text":"A"},{"wl":777,"val":1.0,"text":"+"},{"wl":836.5,"val":0.962,"text":"(f)"}]},"mark":{"type":"text"},"encoding":{"x":{"field":"wl","type":"quantitative","axis":null},"y":{"field":"val","type":"quantitative","axis":null},"text":{"field":"text"}}},
  {"data":{"name":"anchor"},"mark":{"type":"point","opacity":0},"encoding":{"x":{"field":"wl","type":"quantitative","axis":{"orient":"bottom","values":[700,750,800,850],"title":"Wavelength (nm)","tickSize":6,"labelPadding":8,"titlePadding":7}},"y":{"field":"val","type":"quantitative","axis":{"orient":"left","values":[0,0.5,1],"format":".1f","tickSize":6,"labelPadding":2,"title":"m₁₁","titleFontStyle":"italic","titlePadding":25}}}},
  {"data":{"name":"anchor"},"mark":{"type":"point","opacity":0},"encoding":{"x":{"field":"wl","type":"quantitative","axis":{"orient":"bottom","values":[690,695,705,710,715,720,725,730,735,740,745,755,760,765,770,775,780,785,790,795,805,810,815,820,825,830,835,840,845,855,860],"labels":false,"tickSize":3.5,"title":null}},"y":{"field":"val","type":"quantitative","axis":{"orient":"left","values":[0.05,0.1,0.15,0.2,0.25,0.3,0.35,0.4,0.45,0.55,0.6,0.65,0.7,0.75,0.8,0.85,0.9,0.95,1.05],"labels":false,"tickSize":3.5,"title":null}}}},
  {"data":{"name":"anchor"},"mark":{"type":"point","opacity":0},"encoding":{"x":{"field":"wl","type":"quantitative","axis":{"orient":"top","values":[729.32,774.9,826.56],"labelExpr":"format(1239.84/datum.value,'.1f')","ticks":false,"labelPadding":15,"title":"Energy (eV)","titlePadding":7}},"y":{"field":"val","type":"quantitative","axis":{"orient":"right","values":[0,0.5,1],"labels":false,"tickSize":6,"offset":-6,"title":null}}}},
  {"data":{"name":"anchor"},"mark":{"type":"point","opacity":0},"encoding":{"x":{"field":"wl","type":"quantitative","axis":{"orient":"top","values":[729.32,774.9,826.56],"labels":false,"tickSize":6,"offset":-6,"title":null}},"y":{"field":"val","type":"quantitative","axis":{"orient":"right","values":[0.05,0.1,0.15,0.2,0.25,0.3,0.35,0.4,0.45,0.55,0.6,0.65,0.7,0.75,0.8,0.85,0.9,0.95,1.05],"labels":false,"tickSize":3.5,"offset":-3.5,"title":null}}}},
  {"data":{"name":"anchor"},"mark":{"type":"point","opacity":0},"encoding":{"x":{"field":"wl","type":"quantitative","axis":{"orient":"top","values":[692.65,696.54,700.47,704.45,708.48,712.55,716.68,720.84,725.05,733.63,738,742.42,746.89,751.42,756,760.64,765.33,770.09,779.77,784.71,789.71,794.77,799.9,805.09,810.35,815.68,821.09,832.11,837.73,843.43,849.21,855.06],"labels":false,"tickSize":3.5,"offset":-3.5,"title":null}},"y":{"field":"val","type":"quantitative","axis":null}}}
 ],"resolve":{"axis":{"x":"independent","y":"independent"}}},

 {"width":222,"height":218,"layer":[
  {"data":{"values":[{"x0":770,"x1":786.8}]},"mark":{"type":"rect","color":"#d3d3d3"},"encoding":{"x":{"field":"x0","type":"quantitative","scale":{"domain":[690,860],"nice":false},"axis":null},"x2":{"field":"x1"}}},
  {"data":{"name":"g_pp"},"mark":{"type":"area","clip":true,"opacity":0.35,"color":{"gradient":"linear","x1":0,"y1":1,"x2":0,"y2":0,"stops":[{"offset":0,"color":"#c4a6f8"},{"offset":1,"color":"#3d0a5b"}]}},"encoding":{"x":{"field":"wl","type":"quantitative","axis":null},"y":{"field":"val","type":"quantitative","scale":{"domain":[-0.047,1.093],"nice":false},"axis":null}}},
  {"data":{"name":"g_pp"},"mark":{"type":"line","clip":true,"opacity":0.35,"color":"#4a0d67","strokeWidth":1.5},"encoding":{"x":{"field":"wl","type":"quantitative","axis":null},"y":{"field":"val","type":"quantitative","axis":null}}},
  {"data":{"name":"g_op"},"mark":{"type":"line","clip":true,"opacity":0.5,"color":"#fd9a2b","strokeWidth":1.5},"encoding":{"x":{"field":"wl","type":"quantitative","axis":null},"y":{"field":"val","type":"quantitative","axis":null}}},
  {"data":{"name":"g_pu"},"mark":{"type":"area","clip":true,"color":{"gradient":"linear","x1":0,"y1":1,"x2":0,"y2":0,"stops":[{"offset":0,"color":"#c4a6f8"},{"offset":1,"color":"#3d0a5b"}]}},"encoding":{"x":{"field":"wl","type":"quantitative","axis":null},"y":{"field":"val","type":"quantitative","axis":null}}},
  {"data":{"name":"g_pu"},"mark":{"type":"line","clip":true,"color":"#4a0d67","strokeWidth":2.2},"encoding":{"x":{"field":"wl","type":"quantitative","axis":null},"y":{"field":"val","type":"quantitative","axis":null}}},
  {"data":{"name":"g_or"},"mark":{"type":"line","clip":true,"color":"#fd9a2b","strokeWidth":1.8},"encoding":{"x":{"field":"wl","type":"quantitative","axis":null},"y":{"field":"val","type":"quantitative","axis":null}}},
  {"data":{"values":[{"wl":803.2,"val":0.265,"text":"A"},{"wl":778.4,"val":1.0,"text":"+"},{"wl":837,"val":0.962,"text":"(g)"}]},"mark":{"type":"text"},"encoding":{"x":{"field":"wl","type":"quantitative","axis":null},"y":{"field":"val","type":"quantitative","axis":null},"text":{"field":"text"}}},
  {"data":{"name":"anchor"},"mark":{"type":"point","opacity":0},"encoding":{"x":{"field":"wl","type":"quantitative","axis":{"orient":"bottom","values":[700,750,800,850],"title":"Wavelength (nm)","tickSize":6,"labelPadding":8,"titlePadding":7}},"y":{"field":"val","type":"quantitative","axis":{"orient":"left","values":[0,0.5,1],"format":".1f","tickSize":6,"labelPadding":2,"title":"m₂₂","titleFontStyle":"italic","titlePadding":25}}}},
  {"data":{"name":"anchor"},"mark":{"type":"point","opacity":0},"encoding":{"x":{"field":"wl","type":"quantitative","axis":{"orient":"bottom","values":[690,695,705,710,715,720,725,730,735,740,745,755,760,765,770,775,780,785,790,795,805,810,815,820,825,830,835,840,845,855,860],"labels":false,"tickSize":3.5,"title":null}},"y":{"field":"val","type":"quantitative","axis":{"orient":"left","values":[0.05,0.1,0.15,0.2,0.25,0.3,0.35,0.4,0.45,0.55,0.6,0.65,0.7,0.75,0.8,0.85,0.9,0.95,1.05],"labels":false,"tickSize":3.5,"title":null}}}},
  {"data":{"name":"anchor"},"mark":{"type":"point","opacity":0},"encoding":{"x":{"field":"wl","type":"quantitative","axis":{"orient":"top","values":[729.32,774.9,826.56],"labelExpr":"format(1239.84/datum.value,'.1f')","ticks":false,"labelPadding":15,"title":"Energy (eV)","titlePadding":7}},"y":{"field":"val","type":"quantitative","axis":{"orient":"right","values":[0,0.5,1],"labels":false,"tickSize":6,"offset":-6,"title":null}}}},
  {"data":{"name":"anchor"},"mark":{"type":"point","opacity":0},"encoding":{"x":{"field":"wl","type":"quantitative","axis":{"orient":"top","values":[729.32,774.9,826.56],"labels":false,"tickSize":6,"offset":-6,"title":null}},"y":{"field":"val","type":"quantitative","axis":{"orient":"right","values":[0.05,0.1,0.15,0.2,0.25,0.3,0.35,0.4,0.45,0.55,0.6,0.65,0.7,0.75,0.8,0.85,0.9,0.95,1.05],"labels":false,"tickSize":3.5,"offset":-3.5,"title":null}}}},
  {"data":{"name":"anchor"},"mark":{"type":"point","opacity":0},"encoding":{"x":{"field":"wl","type":"quantitative","axis":{"orient":"top","values":[692.65,696.54,700.47,704.45,708.48,712.55,716.68,720.84,725.05,733.63,738,742.42,746.89,751.42,756,760.64,765.33,770.09,779.77,784.71,789.71,794.77,799.9,805.09,810.35,815.68,821.09,832.11,837.73,843.43,849.21,855.06],"labels":false,"tickSize":3.5,"offset":-3.5,"title":null}},"y":{"field":"val","type":"quantitative","axis":null}}}
 ],"resolve":{"axis":{"x":"independent","y":"independent"}}},

 {"width":222,"height":218,"layer":[
  {"data":{"values":[{"x0":769.9,"x1":786.5}]},"mark":{"type":"rect","color":"#d3d3d3"},"encoding":{"x":{"field":"x0","type":"quantitative","scale":{"domain":[690,860],"nice":false},"axis":null},"x2":{"field":"x1"}}},
  {"data":{"name":"h_pp"},"mark":{"type":"area","clip":true,"opacity":0.35,"color":{"gradient":"linear","x1":0,"y1":1,"x2":0,"y2":0,"stops":[{"offset":0,"color":"#c4a6f8"},{"offset":1,"color":"#3d0a5b"}]}},"encoding":{"x":{"field":"wl","type":"quantitative","axis":null},"y":{"field":"val","type":"quantitative","scale":{"domain":[-0.047,1.093],"nice":false},"axis":null}}},
  {"data":{"name":"h_pp"},"mark":{"type":"line","clip":true,"opacity":0.35,"color":"#4a0d67","strokeWidth":1.5},"encoding":{"x":{"field":"wl","type":"quantitative","axis":null},"y":{"field":"val","type":"quantitative","axis":null}}},
  {"data":{"name":"h_op"},"mark":{"type":"line","clip":true,"opacity":0.5,"color":"#fd9a2b","strokeWidth":1.5},"encoding":{"x":{"field":"wl","type":"quantitative","axis":null},"y":{"field":"val","type":"quantitative","axis":null}}},
  {"data":{"name":"h_pu"},"mark":{"type":"area","clip":true,"color":{"gradient":"linear","x1":0,"y1":1,"x2":0,"y2":0,"stops":[{"offset":0,"color":"#c4a6f8"},{"offset":1,"color":"#3d0a5b"}]}},"encoding":{"x":{"field":"wl","type":"quantitative","axis":null},"y":{"field":"val","type":"quantitative","axis":null}}},
  {"data":{"name":"h_pu"},"mark":{"type":"line","clip":true,"color":"#4a0d67","strokeWidth":2.2},"encoding":{"x":{"field":"wl","type":"quantitative","axis":null},"y":{"field":"val","type":"quantitative","axis":null}}},
  {"data":{"name":"h_or"},"mark":{"type":"line","clip":true,"color":"#fd9a2b","strokeWidth":1.8},"encoding":{"x":{"field":"wl","type":"quantitative","axis":null},"y":{"field":"val","type":"quantitative","axis":null}}},
  {"data":{"values":[{"wl":803.2,"val":0.265,"text":"A"},{"wl":777.6,"val":1.0,"text":"+"},{"wl":836.5,"val":0.962,"text":"(h)"}]},"mark":{"type":"text"},"encoding":{"x":{"field":"wl","type":"quantitative","axis":null},"y":{"field":"val","type":"quantitative","axis":null},"text":{"field":"text"}}},
  {"data":{"name":"anchor"},"mark":{"type":"point","opacity":0},"encoding":{"x":{"field":"wl","type":"quantitative","axis":{"orient":"bottom","values":[700,750,800,850],"title":"Wavelength (nm)","tickSize":6,"labelPadding":8,"titlePadding":7}},"y":{"field":"val","type":"quantitative","axis":{"orient":"left","values":[0,0.5,1],"format":".1f","tickSize":6,"labelPadding":2,"title":"m₃₃","titleFontStyle":"italic","titlePadding":25}}}},
  {"data":{"name":"anchor"},"mark":{"type":"point","opacity":0},"encoding":{"x":{"field":"wl","type":"quantitative","axis":{"orient":"bottom","values":[690,695,705,710,715,720,725,730,735,740,745,755,760,765,770,775,780,785,790,795,805,810,815,820,825,830,835,840,845,855,860],"labels":false,"tickSize":3.5,"title":null}},"y":{"field":"val","type":"quantitative","axis":{"orient":"left","values":[0.05,0.1,0.15,0.2,0.25,0.3,0.35,0.4,0.45,0.55,0.6,0.65,0.7,0.75,0.8,0.85,0.9,0.95,1.05],"labels":false,"tickSize":3.5,"title":null}}}},
  {"data":{"name":"anchor"},"mark":{"type":"point","opacity":0},"encoding":{"x":{"field":"wl","type":"quantitative","axis":{"orient":"top","values":[729.32,774.9,826.56],"labelExpr":"format(1239.84/datum.value,'.1f')","ticks":false,"labelPadding":15,"title":"Energy (eV)","titlePadding":7}},"y":{"field":"val","type":"quantitative","axis":{"orient":"right","values":[0,0.5,1],"labels":false,"tickSize":6,"offset":-6,"title":null}}}},
  {"data":{"name":"anchor"},"mark":{"type":"point","opacity":0},"encoding":{"x":{"field":"wl","type":"quantitative","axis":{"orient":"top","values":[729.32,774.9,826.56],"labels":false,"tickSize":6,"offset":-6,"title":null}},"y":{"field":"val","type":"quantitative","axis":{"orient":"right","values":[0.05,0.1,0.15,0.2,0.25,0.3,0.35,0.4,0.45,0.55,0.6,0.65,0.7,0.75,0.8,0.85,0.9,0.95,1.05],"labels":false,"tickSize":3.5,"offset":-3.5,"title":null}}}},
  {"data":{"name":"anchor"},"mark":{"type":"point","opacity":0},"encoding":{"x":{"field":"wl","type":"quantitative","axis":{"orient":"top","values":[692.65,696.54,700.47,704.45,708.48,712.55,716.68,720.84,725.05,733.63,738,742.42,746.89,751.42,756,760.64,765.33,770.09,779.77,784.71,789.71,794.77,799.9,805.09,810.35,815.68,821.09,832.11,837.73,843.43,849.21,855.06],"labels":false,"tickSize":3.5,"offset":-3.5,"title":null}},"y":{"field":"val","type":"quantitative","axis":null}}}
 ],"resolve":{"axis":{"x":"independent","y":"independent"}}},

 {"width":222,"height":218,"layer":[
  {"data":{"name":"i_pu"},"mark":{"type":"line","clip":true,"color":"#4a0d67","strokeWidth":2.4},"encoding":{"x":{"field":"wl","type":"quantitative","scale":{"domain":[690,860],"nice":false},"axis":null},"y":{"field":"val","type":"quantitative","scale":{"type":"log","domain":[0.002,5],"nice":false},"axis":null}}},
  {"data":{"name":"i_or"},"mark":{"type":"line","clip":true,"color":"#fd9a2b","strokeWidth":2.2},"encoding":{"x":{"field":"wl","type":"quantitative","axis":null},"y":{"field":"val","type":"quantitative","axis":null}}},
  {"data":{"values":[{"wl":793,"val":1.75,"text":"A"},{"wl":725.3,"val":0.187,"text":"B"},{"wl":698.5,"val":2.72,"text":"+"},{"wl":836.8,"val":1.97,"text":"(i)"}]},"mark":{"type":"text"},"encoding":{"x":{"field":"wl","type":"quantitative","axis":null},"y":{"field":"val","type":"quantitative","axis":null},"text":{"field":"text"}}},
  {"data":{"name":"anchor"},"mark":{"type":"point","opacity":0},"encoding":{"x":{"field":"wl","type":"quantitative","axis":{"orient":"bottom","values":[700,750,800,850],"title":"Wavelength (nm)","tickSize":6,"labelPadding":8,"titlePadding":7}},"y":{"field":"val","type":"quantitative","axis":{"orient":"left","values":[0.01,0.1,1],"labelExpr":"datum.value>0.5?'10⁰':(datum.value>0.05?'10⁻¹':'10⁻²')","tickSize":6,"labelPadding":2,"title":"PL Intensity (arb. units)","titlePadding":17}}}},
  {"data":{"name":"anchor"},"mark":{"type":"point","opacity":0},"encoding":{"x":{"field":"wl","type":"quantitative","axis":{"orient":"bottom","values":[690,695,705,710,715,720,725,730,735,740,745,755,760,765,770,775,780,785,790,795,805,810,815,820,825,830,835,840,845,855,860],"labels":false,"tickSize":3.5,"title":null}},"y":{"field":"val","type":"quantitative","axis":{"orient":"left","values":[0.002,0.003,0.004,0.005,0.006,0.007,0.008,0.009,0.02,0.03,0.04,0.05,0.06,0.07,0.08,0.09,0.2,0.3,0.4,0.5,0.6,0.7,0.8,0.9,2,3,4],"labels":false,"tickSize":3.5,"title":null}}}},
  {"data":{"name":"anchor"},"mark":{"type":"point","opacity":0},"encoding":{"x":{"field":"wl","type":"quantitative","axis":{"orient":"top","values":[729.32,774.9,826.56],"labelExpr":"format(1239.84/datum.value,'.1f')","ticks":false,"labelPadding":15,"title":"Energy (eV)","titlePadding":7}},"y":{"field":"val","type":"quantitative","axis":{"orient":"right","values":[0.01,0.1,1],"labels":false,"tickSize":6,"offset":-6,"title":null}}}},
  {"data":{"name":"anchor"},"mark":{"type":"point","opacity":0},"encoding":{"x":{"field":"wl","type":"quantitative","axis":{"orient":"top","values":[729.32,774.9,826.56],"labels":false,"tickSize":6,"offset":-6,"title":null}},"y":{"field":"val","type":"quantitative","axis":{"orient":"right","values":[0.002,0.003,0.004,0.005,0.006,0.007,0.008,0.009,0.02,0.03,0.04,0.05,0.06,0.07,0.08,0.09,0.2,0.3,0.4,0.5,0.6,0.7,0.8,0.9,2,3,4],"labels":false,"tickSize":3.5,"offset":-3.5,"title":null}}}},
  {"data":{"name":"anchor"},"mark":{"type":"point","opacity":0},"encoding":{"x":{"field":"wl","type":"quantitative","axis":{"orient":"top","values":[692.65,696.54,700.47,704.45,708.48,712.55,716.68,720.84,725.05,733.63,738,742.42,746.89,751.42,756,760.64,765.33,770.09,779.77,784.71,789.71,794.77,799.9,805.09,810.35,815.68,821.09,832.11,837.73,843.43,849.21,855.06],"labels":false,"tickSize":3.5,"offset":-3.5,"title":null}},"y":{"field":"val","type":"quantitative","axis":null}}}
 ],"resolve":{"axis":{"x":"independent","y":"independent"}}},

 {"width":222,"height":218,"layer":[
  {"data":{"values":[{"x0":692.6,"x1":705.9}]},"mark":{"type":"rect","color":"#d3d3d3"},"encoding":{"x":{"field":"x0","type":"quantitative","scale":{"domain":[690,860],"nice":false},"axis":null},"x2":{"field":"x1"}}},
  {"data":{"name":"j_pp"},"mark":{"type":"area","clip":true,"opacity":0.35,"color":{"gradient":"linear","x1":0,"y1":1,"x2":0,"y2":0,"stops":[{"offset":0,"color":"#c4a6f8"},{"offset":1,"color":"#3d0a5b"}]}},"encoding":{"x":{"field":"wl","type":"quantitative","axis":null},"y":{"field":"val","type":"quantitative","scale":{"domain":[-0.047,1.093],"nice":false},"axis":null}}},
  {"data":{"name":"j_pp"},"mark":{"type":"line","clip":true,"opacity":0.35,"color":"#4a0d67","strokeWidth":1.5},"encoding":{"x":{"field":"wl","type":"quantitative","axis":null},"y":{"field":"val","type":"quantitative","axis":null}}},
  {"data":{"name":"j_op"},"mark":{"type":"line","clip":true,"opacity":0.5,"color":"#fd9a2b","strokeWidth":1.5},"encoding":{"x":{"field":"wl","type":"quantitative","axis":null},"y":{"field":"val","type":"quantitative","axis":null}}},
  {"data":{"name":"j_pu"},"mark":{"type":"area","clip":true,"color":{"gradient":"linear","x1":0,"y1":1,"x2":0,"y2":0,"stops":[{"offset":0,"color":"#c4a6f8"},{"offset":1,"color":"#3d0a5b"}]}},"encoding":{"x":{"field":"wl","type":"quantitative","axis":null},"y":{"field":"val","type":"quantitative","axis":null}}},
  {"data":{"name":"j_pu"},"mark":{"type":"line","clip":true,"color":"#4a0d67","strokeWidth":2.2},"encoding":{"x":{"field":"wl","type":"quantitative","axis":null},"y":{"field":"val","type":"quantitative","axis":null}}},
  {"data":{"name":"j_or"},"mark":{"type":"line","clip":true,"color":"#fd9a2b","strokeWidth":1.8},"encoding":{"x":{"field":"wl","type":"quantitative","axis":null},"y":{"field":"val","type":"quantitative","axis":null}}},
  {"data":{"values":[{"wl":698.2,"val":1.0,"text":"+"},{"wl":733.5,"val":0.376,"text":"B"},{"wl":789.1,"val":0.132,"text":"A"},{"wl":835.2,"val":0.96,"text":"(j)"}]},"mark":{"type":"text"},"encoding":{"x":{"field":"wl","type":"quantitative","axis":null},"y":{"field":"val","type":"quantitative","axis":null},"text":{"field":"text"}}},
  {"data":{"name":"anchor"},"mark":{"type":"point","opacity":0},"encoding":{"x":{"field":"wl","type":"quantitative","axis":{"orient":"bottom","values":[700,750,800,850],"title":"Wavelength (nm)","tickSize":6,"labelPadding":8,"titlePadding":7}},"y":{"field":"val","type":"quantitative","axis":{"orient":"left","values":[0,0.5,1],"format":".1f","tickSize":6,"labelPadding":2,"title":"m₁₁","titleFontStyle":"italic","titlePadding":25}}}},
  {"data":{"name":"anchor"},"mark":{"type":"point","opacity":0},"encoding":{"x":{"field":"wl","type":"quantitative","axis":{"orient":"bottom","values":[690,695,705,710,715,720,725,730,735,740,745,755,760,765,770,775,780,785,790,795,805,810,815,820,825,830,835,840,845,855,860],"labels":false,"tickSize":3.5,"title":null}},"y":{"field":"val","type":"quantitative","axis":{"orient":"left","values":[0.05,0.1,0.15,0.2,0.25,0.3,0.35,0.4,0.45,0.55,0.6,0.65,0.7,0.75,0.8,0.85,0.9,0.95,1.05],"labels":false,"tickSize":3.5,"title":null}}}},
  {"data":{"name":"anchor"},"mark":{"type":"point","opacity":0},"encoding":{"x":{"field":"wl","type":"quantitative","axis":{"orient":"top","values":[729.32,774.9,826.56],"labelExpr":"format(1239.84/datum.value,'.1f')","ticks":false,"labelPadding":15,"title":"Energy (eV)","titlePadding":7}},"y":{"field":"val","type":"quantitative","axis":{"orient":"right","values":[0,0.5,1],"labels":false,"tickSize":6,"offset":-6,"title":null}}}},
  {"data":{"name":"anchor"},"mark":{"type":"point","opacity":0},"encoding":{"x":{"field":"wl","type":"quantitative","axis":{"orient":"top","values":[729.32,774.9,826.56],"labels":false,"tickSize":6,"offset":-6,"title":null}},"y":{"field":"val","type":"quantitative","axis":{"orient":"right","values":[0.05,0.1,0.15,0.2,0.25,0.3,0.35,0.4,0.45,0.55,0.6,0.65,0.7,0.75,0.8,0.85,0.9,0.95,1.05],"labels":false,"tickSize":3.5,"offset":-3.5,"title":null}}}},
  {"data":{"name":"anchor"},"mark":{"type":"point","opacity":0},"encoding":{"x":{"field":"wl","type":"quantitative","axis":{"orient":"top","values":[692.65,696.54,700.47,704.45,708.48,712.55,716.68,720.84,725.05,733.63,738,742.42,746.89,751.42,756,760.64,765.33,770.09,779.77,784.71,789.71,794.77,799.9,805.09,810.35,815.68,821.09,832.11,837.73,843.43,849.21,855.06],"labels":false,"tickSize":3.5,"offset":-3.5,"title":null}},"y":{"field":"val","type":"quantitative","axis":null}}}
 ],"resolve":{"axis":{"x":"independent","y":"independent"}}},

 {"width":222,"height":218,"layer":[
  {"data":{"values":[{"x0":693.6,"x1":706.3}]},"mark":{"type":"rect","color":"#d3d3d3"},"encoding":{"x":{"field":"x0","type":"quantitative","scale":{"domain":[690,860],"nice":false},"axis":null},"x2":{"field":"x1"}}},
  {"data":{"name":"k_pp"},"mark":{"type":"area","clip":true,"opacity":0.35,"color":{"gradient":"linear","x1":0,"y1":1,"x2":0,"y2":0,"stops":[{"offset":0,"color":"#c4a6f8"},{"offset":1,"color":"#3d0a5b"}]}},"encoding":{"x":{"field":"wl","type":"quantitative","axis":null},"y":{"field":"val","type":"quantitative","scale":{"domain":[-0.047,1.093],"nice":false},"axis":null}}},
  {"data":{"name":"k_pp"},"mark":{"type":"line","clip":true,"opacity":0.35,"color":"#4a0d67","strokeWidth":1.5},"encoding":{"x":{"field":"wl","type":"quantitative","axis":null},"y":{"field":"val","type":"quantitative","axis":null}}},
  {"data":{"name":"k_op"},"mark":{"type":"line","clip":true,"opacity":0.5,"color":"#fd9a2b","strokeWidth":1.5},"encoding":{"x":{"field":"wl","type":"quantitative","axis":null},"y":{"field":"val","type":"quantitative","axis":null}}},
  {"data":{"name":"k_pu"},"mark":{"type":"area","clip":true,"color":{"gradient":"linear","x1":0,"y1":1,"x2":0,"y2":0,"stops":[{"offset":0,"color":"#c4a6f8"},{"offset":1,"color":"#3d0a5b"}]}},"encoding":{"x":{"field":"wl","type":"quantitative","axis":null},"y":{"field":"val","type":"quantitative","axis":null}}},
  {"data":{"name":"k_pu"},"mark":{"type":"line","clip":true,"color":"#4a0d67","strokeWidth":2.2},"encoding":{"x":{"field":"wl","type":"quantitative","axis":null},"y":{"field":"val","type":"quantitative","axis":null}}},
  {"data":{"name":"k_or"},"mark":{"type":"line","clip":true,"color":"#fd9a2b","strokeWidth":1.8},"encoding":{"x":{"field":"wl","type":"quantitative","axis":null},"y":{"field":"val","type":"quantitative","axis":null}}},
  {"data":{"values":[{"wl":699.9,"val":1.0,"text":"+"},{"wl":737.7,"val":0.376,"text":"B"},{"wl":793.7,"val":0.098,"text":"A"},{"wl":837.1,"val":0.96,"text":"(k)"}]},"mark":{"type":"text"},"encoding":{"x":{"field":"wl","type":"quantitative","axis":null},"y":{"field":"val","type":"quantitative","axis":null},"text":{"field":"text"}}},
  {"data":{"name":"anchor"},"mark":{"type":"point","opacity":0},"encoding":{"x":{"field":"wl","type":"quantitative","axis":{"orient":"bottom","values":[700,750,800,850],"title":"Wavelength (nm)","tickSize":6,"labelPadding":8,"titlePadding":7}},"y":{"field":"val","type":"quantitative","axis":{"orient":"left","values":[0,0.5,1],"format":".1f","tickSize":6,"labelPadding":2,"title":"m₂₂","titleFontStyle":"italic","titlePadding":25}}}},
  {"data":{"name":"anchor"},"mark":{"type":"point","opacity":0},"encoding":{"x":{"field":"wl","type":"quantitative","axis":{"orient":"bottom","values":[690,695,705,710,715,720,725,730,735,740,745,755,760,765,770,775,780,785,790,795,805,810,815,820,825,830,835,840,845,855,860],"labels":false,"tickSize":3.5,"title":null}},"y":{"field":"val","type":"quantitative","axis":{"orient":"left","values":[0.05,0.1,0.15,0.2,0.25,0.3,0.35,0.4,0.45,0.55,0.6,0.65,0.7,0.75,0.8,0.85,0.9,0.95,1.05],"labels":false,"tickSize":3.5,"title":null}}}},
  {"data":{"name":"anchor"},"mark":{"type":"point","opacity":0},"encoding":{"x":{"field":"wl","type":"quantitative","axis":{"orient":"top","values":[729.32,774.9,826.56],"labelExpr":"format(1239.84/datum.value,'.1f')","ticks":false,"labelPadding":15,"title":"Energy (eV)","titlePadding":7}},"y":{"field":"val","type":"quantitative","axis":{"orient":"right","values":[0,0.5,1],"labels":false,"tickSize":6,"offset":-6,"title":null}}}},
  {"data":{"name":"anchor"},"mark":{"type":"point","opacity":0},"encoding":{"x":{"field":"wl","type":"quantitative","axis":{"orient":"top","values":[729.32,774.9,826.56],"labels":false,"tickSize":6,"offset":-6,"title":null}},"y":{"field":"val","type":"quantitative","axis":{"orient":"right","values":[0.05,0.1,0.15,0.2,0.25,0.3,0.35,0.4,0.45,0.55,0.6,0.65,0.7,0.75,0.8,0.85,0.9,0.95,1.05],"labels":false,"tickSize":3.5,"offset":-3.5,"title":null}}}},
  {"data":{"name":"anchor"},"mark":{"type":"point","opacity":0},"encoding":{"x":{"field":"wl","type":"quantitative","axis":{"orient":"top","values":[692.65,696.54,700.47,704.45,708.48,712.55,716.68,720.84,725.05,733.63,738,742.42,746.89,751.42,756,760.64,765.33,770.09,779.77,784.71,789.71,794.77,799.9,805.09,810.35,815.68,821.09,832.11,837.73,843.43,849.21,855.06],"labels":false,"tickSize":3.5,"offset":-3.5,"title":null}},"y":{"field":"val","type":"quantitative","axis":null}}}
 ],"resolve":{"axis":{"x":"independent","y":"independent"}}},

 {"width":222,"height":218,"layer":[
  {"data":{"values":[{"x0":693.1,"x1":705.9}]},"mark":{"type":"rect","color":"#d3d3d3"},"encoding":{"x":{"field":"x0","type":"quantitative","scale":{"domain":[690,860],"nice":false},"axis":null},"x2":{"field":"x1"}}},
  {"data":{"name":"l_pp"},"mark":{"type":"area","clip":true,"opacity":0.35,"color":{"gradient":"linear","x1":0,"y1":1,"x2":0,"y2":0,"stops":[{"offset":0,"color":"#c4a6f8"},{"offset":1,"color":"#3d0a5b"}]}},"encoding":{"x":{"field":"wl","type":"quantitative","axis":null},"y":{"field":"val","type":"quantitative","scale":{"domain":[-0.047,1.093],"nice":false},"axis":null}}},
  {"data":{"name":"l_pp"},"mark":{"type":"line","clip":true,"opacity":0.35,"color":"#4a0d67","strokeWidth":1.5},"encoding":{"x":{"field":"wl","type":"quantitative","axis":null},"y":{"field":"val","type":"quantitative","axis":null}}},
  {"data":{"name":"l_op"},"mark":{"type":"line","clip":true,"opacity":0.5,"color":"#fd9a2b","strokeWidth":1.5},"encoding":{"x":{"field":"wl","type":"quantitative","axis":null},"y":{"field":"val","type":"quantitative","axis":null}}},
  {"data":{"name":"l_pu"},"mark":{"type":"area","clip":true,"color":{"gradient":"linear","x1":0,"y1":1,"x2":0,"y2":0,"stops":[{"offset":0,"color":"#c4a6f8"},{"offset":1,"color":"#3d0a5b"}]}},"encoding":{"x":{"field":"wl","type":"quantitative","axis":null},"y":{"field":"val","type":"quantitative","axis":null}}},
  {"data":{"name":"l_pu"},"mark":{"type":"line","clip":true,"color":"#4a0d67","strokeWidth":2.2},"encoding":{"x":{"field":"wl","type":"quantitative","axis":null},"y":{"field":"val","type":"quantitative","axis":null}}},
  {"data":{"name":"l_or"},"mark":{"type":"line","clip":true,"color":"#fd9a2b","strokeWidth":1.8},"encoding":{"x":{"field":"wl","type":"quantitative","axis":null},"y":{"field":"val","type":"quantitative","axis":null}}},
  {"data":{"values":[{"wl":698.2,"val":1.0,"text":"+"},{"wl":731.5,"val":0.376,"text":"B"},{"wl":789.1,"val":0.098,"text":"A"},{"wl":836.4,"val":0.96,"text":"(l)"}]},"mark":{"type":"text"},"encoding":{"x":{"field":"wl","type":"quantitative","axis":null},"y":{"field":"val","type":"quantitative","axis":null},"text":{"field":"text"}}},
  {"data":{"name":"anchor"},"mark":{"type":"point","opacity":0},"encoding":{"x":{"field":"wl","type":"quantitative","axis":{"orient":"bottom","values":[700,750,800,850],"title":"Wavelength (nm)","tickSize":6,"labelPadding":8,"titlePadding":7}},"y":{"field":"val","type":"quantitative","axis":{"orient":"left","values":[0,0.5,1],"format":".1f","tickSize":6,"labelPadding":2,"title":"m₃₃","titleFontStyle":"italic","titlePadding":25}}}},
  {"data":{"name":"anchor"},"mark":{"type":"point","opacity":0},"encoding":{"x":{"field":"wl","type":"quantitative","axis":{"orient":"bottom","values":[690,695,705,710,715,720,725,730,735,740,745,755,760,765,770,775,780,785,790,795,805,810,815,820,825,830,835,840,845,855,860],"labels":false,"tickSize":3.5,"title":null}},"y":{"field":"val","type":"quantitative","axis":{"orient":"left","values":[0.05,0.1,0.15,0.2,0.25,0.3,0.35,0.4,0.45,0.55,0.6,0.65,0.7,0.75,0.8,0.85,0.9,0.95,1.05],"labels":false,"tickSize":3.5,"title":null}}}},
  {"data":{"name":"anchor"},"mark":{"type":"point","opacity":0},"encoding":{"x":{"field":"wl","type":"quantitative","axis":{"orient":"top","values":[729.32,774.9,826.56],"labelExpr":"format(1239.84/datum.value,'.1f')","ticks":false,"labelPadding":15,"title":"Energy (eV)","titlePadding":7}},"y":{"field":"val","type":"quantitative","axis":{"orient":"right","values":[0,0.5,1],"labels":false,"tickSize":6,"offset":-6,"title":null}}}},
  {"data":{"name":"anchor"},"mark":{"type":"point","opacity":0},"encoding":{"x":{"field":"wl","type":"quantitative","axis":{"orient":"top","values":[729.32,774.9,826.56],"labels":false,"tickSize":6,"offset":-6,"title":null}},"y":{"field":"val","type":"quantitative","axis":{"orient":"right","values":[0.05,0.1,0.15,0.2,0.25,0.3,0.35,0.4,0.45,0.55,0.6,0.65,0.7,0.75,0.8,0.85,0.9,0.95,1.05],"labels":false,"tickSize":3.5,"offset":-3.5,"title":null}}}},
  {"data":{"name":"anchor"},"mark":{"type":"point","opacity":0},"encoding":{"x":{"field":"wl","type":"quantitative","axis":{"orient":"top","values":[692.65,696.54,700.47,704.45,708.48,712.55,716.68,720.84,725.05,733.63,738,742.42,746.89,751.42,756,760.64,765.33,770.09,779.77,784.71,789.71,794.77,799.9,805.09,810.35,815.68,821.09,832.11,837.73,843.43,849.21,855.06],"labels":false,"tickSize":3.5,"offset":-3.5,"title":null}},"y":{"field":"val","type":"quantitative","axis":null}}}
 ],"resolve":{"axis":{"x":"independent","y":"independent"}}}
]
}
